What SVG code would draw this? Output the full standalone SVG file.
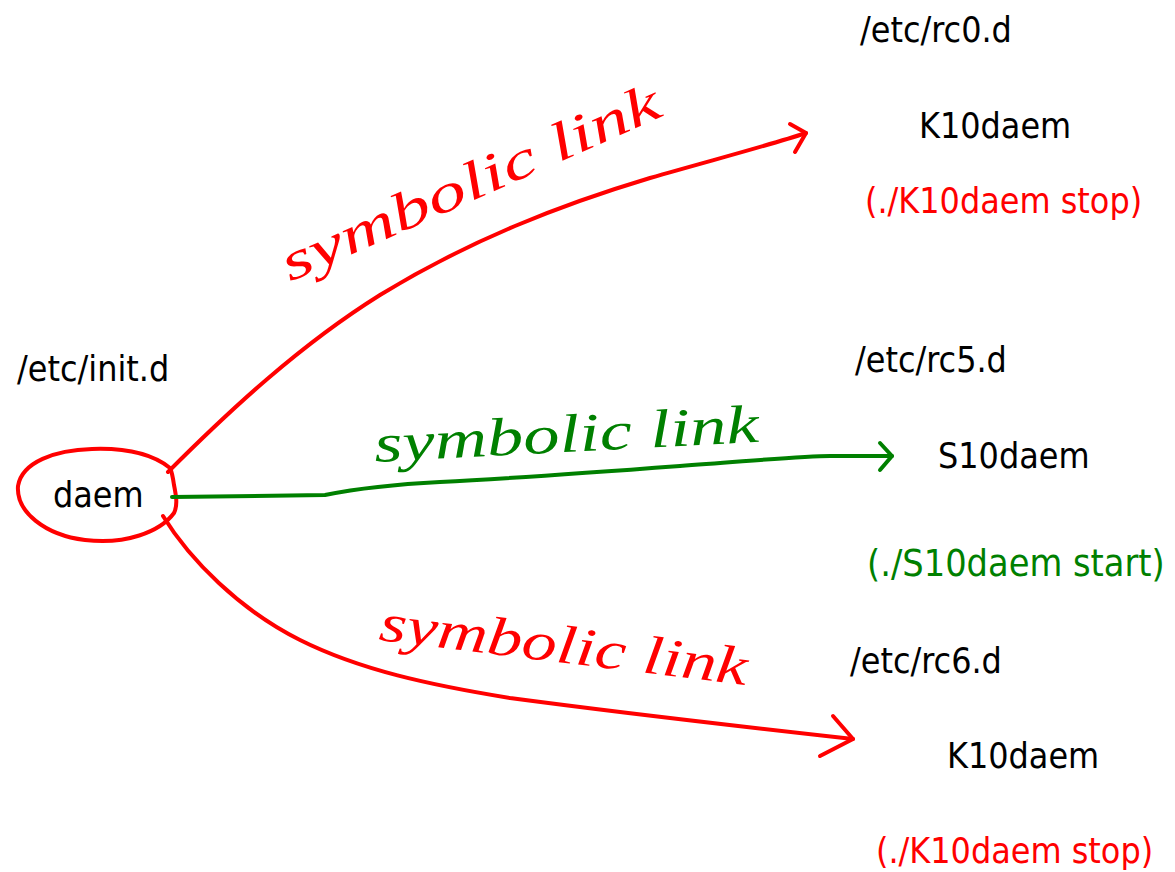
<svg xmlns="http://www.w3.org/2000/svg" width="1175" height="872" viewBox="0 0 1175 872">
  <style>
    .lbl { font-family: "DejaVu Sans Condensed", "DejaVu Sans", sans-serif; font-size: 35.5px; fill: #000; }
    .red { fill: #ff0000; }
    .green { fill: #008000; }
    .big { font-size: 37.5px; }
    .hand { font-family: "Liberation Serif", serif; font-style: italic; font-size: 54px; }
    .stroke-red { fill: none; stroke: #ff0000; stroke-width: 4; stroke-linecap: round; stroke-linejoin: round; }
    .stroke-green { fill: none; stroke: #008000; stroke-width: 4; stroke-linecap: round; stroke-linejoin: round; }
  </style>
  <rect width="1175" height="872" fill="#fff"/>

  <!-- source directory -->
  <g id="init-d">
    <text class="lbl" x="17" y="381">/etc/init.d</text>
  </g>
  <g id="daem">
    <path class="stroke-red" d="M170,468 C150,452 120,448 92,449 C55,450 22,462 18,486 C16,512 45,535 85,540 C125,545 160,532 174,513 C178,505 176,495 174,485 C173,478 172,472 170,468"/>
    <text class="lbl" x="53" y="507">daem</text>
  </g>

  <!-- runlevel 0 -->
  <g id="rc0">
    <text class="lbl" x="860" y="42">/etc/rc0.d</text>
    <text class="lbl" x="919" y="138">K10daem</text>
    <text class="lbl red" x="865" y="213">(./K10daem stop)</text>
  </g>

  <!-- runlevel 5 -->
  <g id="rc5">
    <text class="lbl" x="855" y="372">/etc/rc5.d</text>
    <text class="lbl" x="938" y="468">S10daem</text>
    <text class="lbl big green" x="867" y="576">(./S10daem start)</text>
  </g>

  <!-- runlevel 6 -->
  <g id="rc6">
    <text class="lbl" x="850" y="673">/etc/rc6.d</text>
    <text class="lbl" x="947" y="768">K10daem</text>
    <text class="lbl red" x="876" y="863">(./K10daem stop)</text>
  </g>

  <!-- symbolic links -->
  <g id="connectors">
    <path class="stroke-red" d="M168,472 C230,410 300,345 380,295 C470,240 560,205 650,178 C720,158 770,145 806,133"/>
    <path class="stroke-red" d="M790,124 L806,133 L795,152"/>

    <path class="stroke-green" d="M172,497 L325,495 C360,488 400,484 440,482 C520,478 600,472 680,466 C740,462 800,456 830,456 L892,456"/>
    <path class="stroke-green" d="M880,443 L892,456 L880,470"/>

    <path class="stroke-red" d="M163,516 C190,560 240,610 300,640 C360,670 430,685 510,698 C600,710 700,722 853,739"/>
    <path class="stroke-red" d="M833,716 L853,739 L820,756"/>

    <text class="hand red" transform="translate(290,282) rotate(-24)" textLength="410" lengthAdjust="spacingAndGlyphs">symbolic  link</text>
    <text class="hand green" transform="translate(375,462) rotate(-3)" textLength="385" lengthAdjust="spacingAndGlyphs">symbolic  link</text>
    <text class="hand red" transform="translate(378,640) rotate(7)" textLength="370" lengthAdjust="spacingAndGlyphs">symbolic link</text>
  </g>
</svg>
